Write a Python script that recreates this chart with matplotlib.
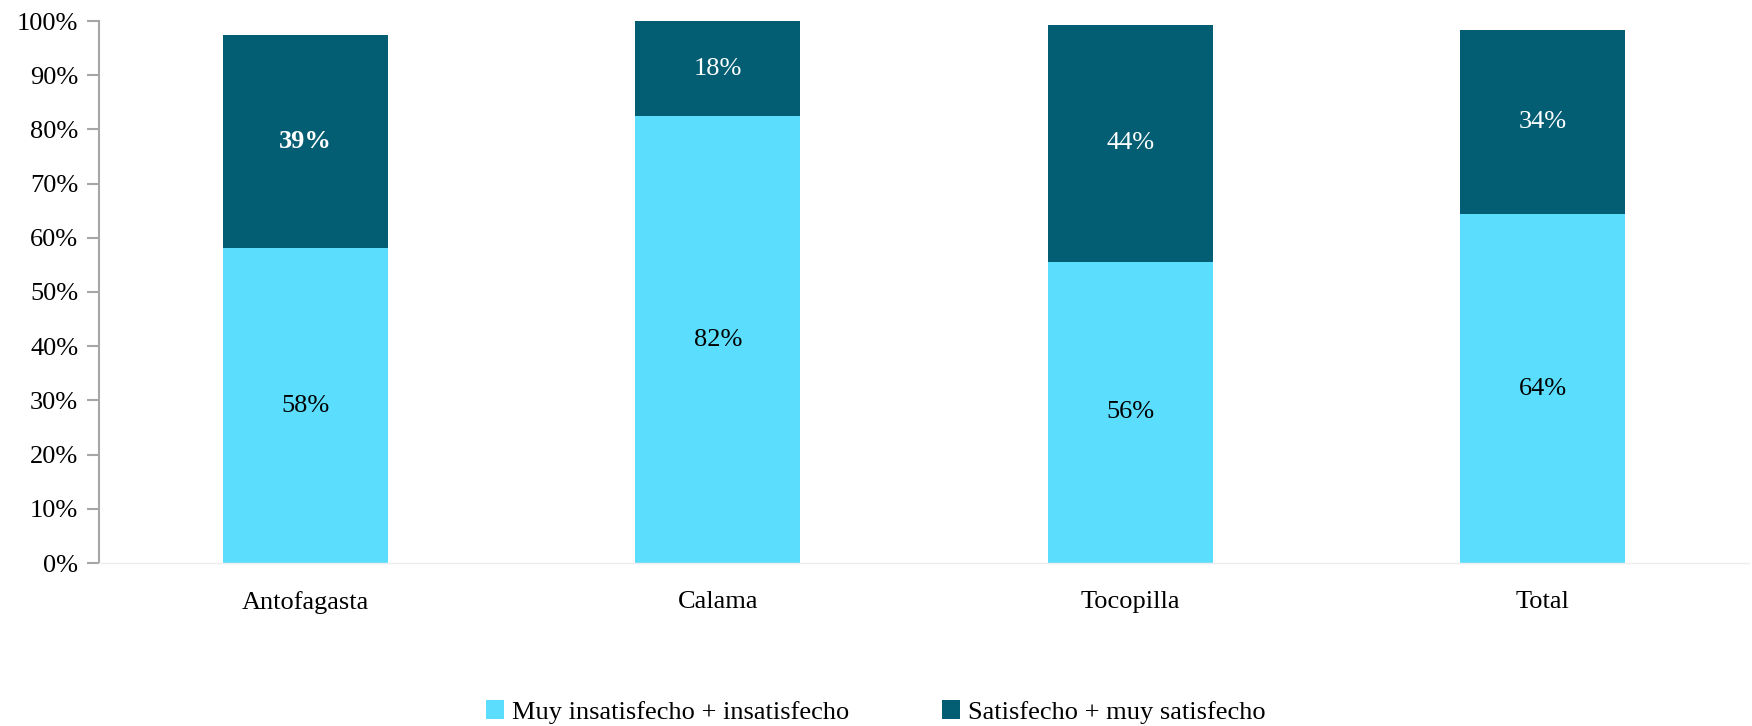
import matplotlib.pyplot as plt
import numpy as np

plt.rcParams['font.family'] = ['Liberation Serif', 'DejaVu Serif']

# data
ciudades = ['Antofagasta', 'Calama', 'Tocopilla', 'Total']
insatisfecho = [58.1, 82.4, 55.6, 64.3]
satisfecho = [39.4, 17.6, 43.7, 34.0]
etiq_insat = ['58%', '82%', '56%', '64%']
etiq_sat = ['39%', '18%', '44%', '34%']
series = ['Muy insatisfecho + insatisfecho', 'Satisfecho + muy satisfecho']

c_claro = '#5BDEFE'
c_oscuro = '#035E73'
fs = 19

fig = plt.figure(figsize=(17.52, 7.26), dpi=100)
ax = fig.add_axes([99 / 1752, 1 - 563 / 726, 1650 / 1752, 542 / 726])

x = np.arange(len(ciudades))
b1 = ax.bar(x, insatisfecho, width=0.4, color=c_claro, label=series[0])
b2 = ax.bar(x, satisfecho, width=0.4, bottom=insatisfecho, color=c_oscuro, label=series[1])

for i in range(len(ciudades)):
    ax.text(x[i], insatisfecho[i] / 2, etiq_insat[i], ha='center', va='center',
            fontsize=fs, color='black')
    ax.text(x[i], insatisfecho[i] + satisfecho[i] / 2, etiq_sat[i], ha='center', va='center',
            fontsize=fs, color='white', fontweight='bold' if i == 0 else 'normal')

ax.set_xlim(-0.5, len(ciudades) - 0.5)
ax.set_ylim(0, 100)
ax.set_yticks(np.arange(0, 101, 10))
ax.set_yticklabels([f'{v}%' for v in range(0, 101, 10)], fontsize=fs)
ax.set_xticks(x)
ax.set_xticklabels(ciudades, fontsize=fs)
ax.tick_params(axis='x', length=0, pad=20)
ax.tick_params(axis='y', length=9, width=1.5, color='#A6A6A6', pad=6)

for s in ['top', 'right']:
    ax.spines[s].set_visible(False)
ax.spines['left'].set_color('#A6A6A6')
ax.spines['left'].set_linewidth(1.5)
ax.spines['bottom'].set_color('#EDEDED')
ax.spines['bottom'].set_linewidth(1)

fig.legend(handles=[b1, b2], labels=series, loc='center', bbox_to_anchor=(0.5, 1 - 712 / 726),
           ncol=2, frameon=False, fontsize=fs, handlelength=0.7, handleheight=0.7,
           handletextpad=0.3, columnspacing=3.5)

fig.savefig('out.png', dpi=100)
